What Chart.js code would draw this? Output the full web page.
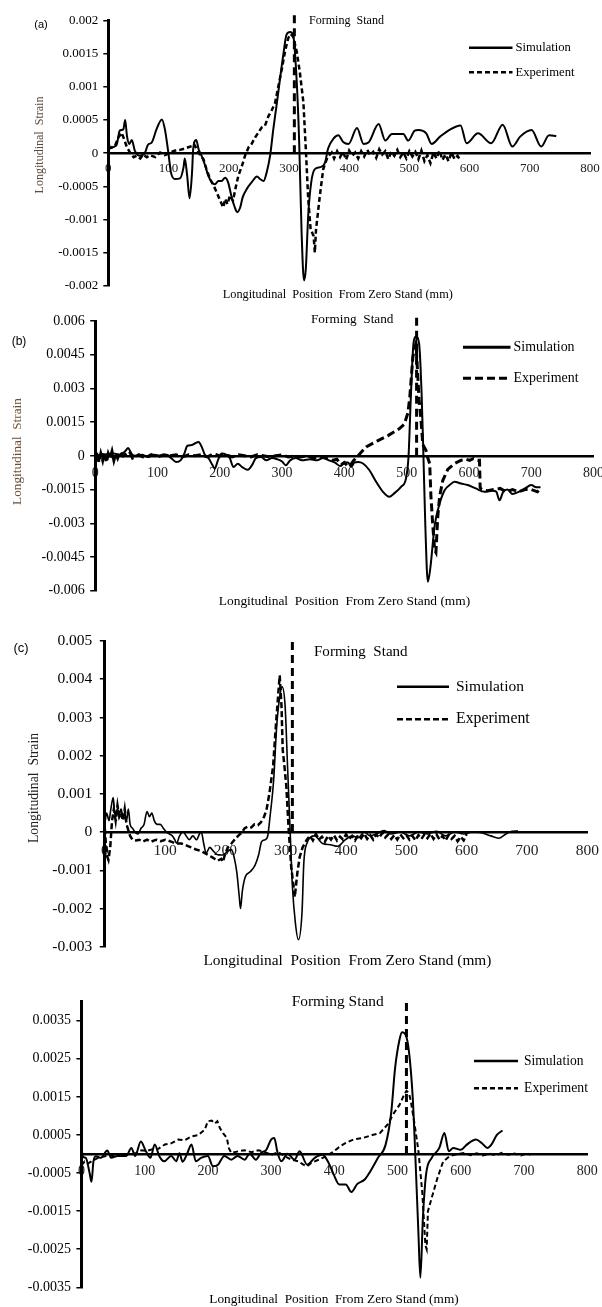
<!DOCTYPE html>
<html lang="en">
<head>
<meta charset="UTF-8">
<title>Longitudinal Strain - Simulation vs Experiment</title>
<script src="https://cdn.jsdelivr.net/npm/chart.js"></script>
<style>
  body { margin: 0; background: #fff; }
  .panel { position: absolute; left: 0; width: 602px; }
  canvas { display: block; }
</style>
</head>
<body>

<div class="panel" style="top:0px"><canvas id="chartA" width="602" height="305"></canvas></div>
<div class="panel" style="top:305px"><canvas id="chartB" width="602" height="320"></canvas></div>
<div class="panel" style="top:625px"><canvas id="chartC" width="602" height="350"></canvas></div>
<div class="panel" style="top:975px"><canvas id="chartD" width="602" height="332"></canvas></div>

<script>
  // ---- shared labels ----
  const seriesNames = ['Simulation', 'Experiment'];
  const xTitleText = 'Longitudinal  Position  From Zero Stand (mm)';
  const yTitleText = 'Longitudinal  Strain';
  const xTicks = [0, 100, 200, 300, 400, 500, 600, 700, 800];

  // ---- panel (a) ----
  const aYTicks = [-0.002, -0.0015, -0.001, -0.0005, 0, 0.0005, 0.001, 0.0015, 0.002];
  const aStandX = 309;
  const aSimX = [0, 2, 5, 10, 14, 19, 25, 28, 31, 35, 39, 44, 53, 61, 66, 72, 80, 89, 94, 100, 104, 111, 119, 125, 127, 131, 135, 139, 141, 146, 150, 155, 161, 166, 172, 177, 183, 188, 194, 199, 205, 211, 214, 219, 223, 230, 238, 247, 252, 258, 263, 269, 274, 280, 285, 291, 296, 302, 307, 313, 317, 321, 325, 328, 332, 337, 343, 352, 360, 365, 374, 382, 390, 399, 413, 424, 432, 449, 460, 471, 490, 498, 509, 515, 528, 537, 551, 566, 585, 595, 614, 636, 655, 671, 684, 703, 719, 732, 744];
  const aSimY = [0.0003, 0.0001, 0.00008, 0.0001, 0.00013, 0.00034, 0.00036, 0.0005, 0.00026, 0.00014, 0.0002, 0.00004, -0.00004, 0.00001, 0.00013, 0.00016, 0.00036, 0.00051, 0.00036, -0.00001, -0.00029, -0.00039, -0.00038, -0.00021, -0.00008, -0.00034, -0.00068, -0.0003, 0.00006, 0.0002, 0.00006, -0.00004, -0.00019, -0.00034, -0.00044, -0.00047, -0.00042, -0.00042, -0.00037, -0.00044, -0.00067, -0.00084, -0.00089, -0.00082, -0.00067, -0.00054, -0.00044, -0.00035, -0.00039, -0.00042, -0.00029, -0.00002, 0.00036, 0.00076, 0.00111, 0.00151, 0.00179, 0.00183, 0.00178, 0.00107, 0.00017, -0.00119, -0.00192, -0.00175, -0.00094, -0.00044, -0.00024, -0.00021, -0.00014, 0.00007, 0.00022, 0.00027, 0.00017, 0.00014, 0.00038, 0.00014, 0.00016, 0.00044, 0.00019, 0.00029, 0.00029, 0.00019, 0.00034, 0.00035, 0.0003, 0.00014, 0.00025, 0.00035, 0.00042, 0.00015, 0.0003, 0.00015, 0.00043, 0.0001, 0.00025, 0.00035, 0.0001, 0.00027, 0.00026];
  const aExpX = [0, 6, 11, 17, 22, 25, 31, 36, 42, 47, 53, 58, 64, 69, 78, 86, 94, 103, 111, 119, 127, 133, 139, 142, 147, 152, 158, 163, 169, 175, 180, 186, 191, 194, 198, 202, 207, 211, 216, 222, 227, 233, 238, 244, 249, 255, 260, 266, 271, 277, 282, 288, 294, 299, 303, 307, 313, 318, 324, 328, 332, 336, 341, 343, 345, 352, 357, 364, 371, 375, 380, 385, 390, 395, 400, 405, 410, 415, 420, 425, 430, 435, 440, 445, 450, 455, 460, 465, 470, 475, 480, 485, 490, 495, 500, 505, 510, 515, 520, 525, 530, 535, 540, 545, 550, 555, 560, 565, 570, 575, 580, 585];
  const aExpY = [0.00006, 0.00009, 0.00011, 0.00024, 0.00031, 0.00024, 0.00009, 0.00001, -0.00006, -0.00004, -0.00008, -0.00002, -0.00006, -0.00003, -0.00006, 0.00001, -0.00003, 0.00001, 0.00004, 0.00005, 0.00007, 0.00009, 0.00011, 0.00014, 0.00006, -0.00002, -0.00009, -0.00024, -0.00039, -0.00049, -0.00059, -0.00072, -0.00082, -0.00069, -0.00077, -0.00064, -0.00072, -0.00054, -0.00034, -0.00019, -0.00004, 0.00009, 0.00014, 0.00024, 0.00031, 0.00039, 0.00041, 0.00056, 0.00064, 0.00076, 0.00099, 0.00126, 0.00156, 0.00174, 0.0018, 0.00176, 0.00153, 0.00123, 0.00077, 0.00007, -0.00069, -0.00115, -0.00125, -0.0015, -0.00115, -0.00059, -0.00024, -0.00006, 0.00001, -0.00008, 0.00003, -0.00006, 0.00002, -0.0001, 0.00004, -0.00004, 0.00001, -0.00008, 0.00003, -0.00005, 0.00005, -0.00003, 0.00002, -0.00007, 0.00006, -0.00002, 0.00003, -0.00009, 0.00002, -0.00004, 0.00005, -0.00006, 0.00001, -0.00008, 0.00003, -0.00005, 0.00002, -0.00009, 0.00004, -0.00012, -0.00003, -0.00015, 0.00001, -0.00008, 0.00004, -0.0001, -0.00002, -0.00012, 0.00001, -0.00009, -0.00004, -0.00011];

  // ---- panel (b) ----
  const bYTicks = [-0.006, -0.0045, -0.003, -0.0015, 0, 0.0015, 0.003, 0.0045, 0.006];
  const bStandX = 516;
  const bSimX = [0, 5, 10, 15, 20, 25, 30, 40, 48, 53, 58, 65, 75, 85, 95, 105, 115, 122, 130, 137, 143, 148, 155, 160, 166, 171, 176, 182, 188, 192, 197, 203, 210, 216, 222, 229, 236, 245, 252, 258, 266, 275, 284, 292, 300, 306, 313, 322, 332, 345, 356, 366, 375, 385, 393, 400, 406, 411, 416, 422, 430, 440, 451, 462, 472, 480, 491, 499, 503, 507, 511, 515, 520, 524, 527, 530, 534, 538, 545, 553, 561, 569, 577, 587, 598, 611, 625, 638, 644, 649, 655, 662, 670, 680, 690, 700, 708, 715];
  const bSimY = [0.0001, -0.0001, 0.0001, -0.0001, 0.0001, 0, 0.0001, 0.00005, 0.0002, 0.00035, 0.0001, 0, 0.00005, -0.00005, 0.00005, 0, 0.00005, -0.0001, -0.00027, -0.0002, 0.0001, 0.00045, 0.00048, 0.00055, 0.00062, 0.0004, 0.00005, -0.0001, -0.0004, -0.00056, -0.0002, 0.0001, 0.00005, -0.0001, -0.0005, -0.00035, -0.0005, -0.00062, -0.0004, -0.0001, -0.00005, -0.0002, -0.0001, -0.00015, -0.00025, -0.00042, -0.0002, -0.0001, -0.0002, -0.00015, -0.0002, -0.0001, -0.0002, -0.0003, -0.00045, -0.0003, -0.0003, -0.00049, -0.0003, -0.00027, -0.00034, -0.00063, -0.00115, -0.0016, -0.00182, -0.00167, -0.00138, -0.001, -0.00004, 0.0028, 0.005, 0.0053, 0.005, 0.0028, -0.00004, -0.0031, -0.0056, -0.005, -0.0031, -0.00212, -0.00153, -0.0013, -0.00115, -0.00123, -0.0013, -0.00145, -0.0016, -0.00155, -0.0016, -0.00198, -0.0016, -0.0015, -0.0017, -0.0016, -0.00145, -0.0013, -0.0014, -0.0014];
  const bExpX = [0, 3, 6, 9, 12, 15, 18, 21, 24, 27, 30, 33, 36, 40, 45, 50, 55, 60, 70, 80, 90, 100, 110, 120, 130, 140, 150, 160, 170, 180, 190, 200, 210, 220, 230, 240, 250, 260, 270, 280, 290, 300, 310, 320, 330, 340, 350, 360, 370, 380, 388, 395, 400, 405, 410, 415, 422, 435, 454, 470, 488, 496, 502, 505, 510, 513, 515, 518, 520, 523, 526, 531, 534, 537, 539, 542, 545, 547, 550, 553, 558, 566, 577, 587, 595, 601, 607, 614, 617, 618, 620, 630, 640, 650, 660, 670, 680, 690, 700, 710, 715];
  const bExpY = [-0.0002, 0.0002, -0.0003, 0.0001, -0.0002, 0.0002, -0.0003, 0.0001, -0.0001, 0.0002, -0.0002, 0.0001, -0.0001, 0.0002, 0, 0.0001, 0.0002, -0.0001, 0.00005, -0.0001, 0.00005, -0.00005, 0.00005, 0, 0.00005, -0.00005, 0.00005, 0, 0.00005, -0.00005, 0.0001, 0, 0.00005, -0.00005, 0.00005, 0, -0.00005, 0.00005, 0, -0.00005, 0, 0.00005, -0.00005, 0, -0.00005, 0, -0.0001, -0.00005, -0.0001, -0.0002, -0.00015, -0.0004, -0.0003, -0.00045, -0.0004, -0.0002, 0, 0.0004, 0.00068, 0.0009, 0.0012, 0.0014, 0.0019, 0.0026, 0.0044, 0.0048, 0.005, 0.0035, 0.0025, 0.0016, 0.0005, 0.00025, -0.0001, -0.00034, -0.0018, -0.0031, -0.0042, -0.0043, -0.0027, -0.0018, -0.0011, -0.0006, -0.00034, -0.0002, -0.00015, -0.0002, -0.00012, -0.0002, -0.0002, -0.0014, -0.0015, -0.00155, -0.0015, -0.00145, -0.0016, -0.0015, -0.0016, -0.0015, -0.0015, -0.0016, -0.00145];

  // ---- panel (c) ----
  const cYTicks = [-0.003, -0.002, -0.001, 0, 0.001, 0.002, 0.003, 0.004, 0.005];
  const cStandX = 311;
  const cSimX = [0, 3, 7, 10, 14, 17, 21, 24, 27, 30, 33, 36, 39, 42, 46, 50, 55, 60, 65, 70, 74, 78, 82, 87, 92, 97, 102, 107, 112, 116, 119, 124, 130, 135, 140, 146, 152, 157, 160, 164, 168, 174, 180, 188, 196, 204, 210, 215, 219, 223, 225, 228, 233, 241, 249, 255, 260, 266, 270, 274, 280, 285, 291, 294, 299, 303, 307, 311, 316, 321, 327, 330, 335, 348, 361, 374, 386, 399, 410, 420, 430, 440, 450, 463, 475, 490, 505, 520, 535, 550, 565, 580, 595, 610, 625, 640, 653, 665, 675, 685];
  const cSimY = [0.0002, 0.0005, 0.0003, 0.0006, 0.0009, 0.0004, 0.0006, 0.0005, 0.0006, 0.0004, 0.0005, 0.0003, 0.0006, 0.0002, 0.0001, 0, -0.00005, 0.0001, 0.0002, 0.00054, 0.0004, 0.0005, 0.0003, 0.0002, 0.0002, 0.0001, 0, -0.00005, -0.0001, -0.0002, -0.00029, -0.0001, 0, -0.0001, -0.0002, -0.0001, -0.0002, -0.00005, 0, -0.0003, -0.00055, -0.0004, -0.0005, -0.0006, -0.0006, -0.0005, -0.00046, -0.0007, -0.00107, -0.0017, -0.002, -0.00155, -0.00117, -0.00104, -0.00087, -0.0006, -0.00025, -0.0002, -0.00011, 0.00041, 0.00137, 0.00277, 0.00364, 0.0038, 0.00329, 0.00172, 0.00015, -0.0014, -0.00238, -0.00282, -0.0021, -0.0008, -0.0003, -0.0001, -0.0003, -0.00033, -0.00037, -0.0002, -0.0001, -0.00015, 0, -0.0001, -0.00005, 0.00004, -0.00005, 0, -0.0001, 0, -0.00005, 0.00002, -0.0001, 0, -0.00005, 0, -0.00002, -0.0001, -0.00016, -0.00005, 0.00002, 0.00003];
  const cExpX = [0, 3, 6, 9, 12, 15, 18, 21, 24, 27, 30, 33, 36, 38, 42, 46, 52, 57, 63, 70, 77, 85, 93, 100, 110, 118, 127, 135, 143, 150, 160, 166, 171, 177, 182, 187, 193, 196, 199, 204, 210, 215, 221, 226, 232, 237, 243, 248, 254, 259, 264, 268, 273, 279, 284, 288, 290, 293, 295, 298, 301, 305, 309, 315, 319, 323, 328, 335, 340, 345, 350, 355, 360, 365, 370, 375, 380, 385, 390, 395, 400, 405, 410, 415, 420, 425, 430, 435, 440, 445, 450, 455, 460, 465, 470, 475, 480, 485, 490, 495, 500, 505, 510, 515, 520, 525, 530, 535, 540, 545, 550, 555, 560, 565, 570, 575, 580, 585, 590, 595, 600];
  const cExpY = [0.0001, -0.0006, -0.00073, -0.0004, 0.0003, 0.0006, 0.0003, 0.0007, 0.0004, 0.0005, 0.0003, 0.0006, 0.0002, 0.0001, -0.0001, -0.0002, -0.00022, -0.0002, -0.00025, -0.0002, -0.00025, -0.0002, -0.00024, -0.0002, -0.00025, -0.0003, -0.0003, -0.00035, -0.0004, -0.00045, -0.0005, -0.00055, -0.0006, -0.00065, -0.0007, -0.00075, -0.0007, -0.00078, -0.0006, -0.0004, -0.0003, -0.0002, -0.0001, -0.00003, 0.0001, 0.00014, 0.00012, 0.0002, 0.00018, 0.00026, 0.0004, 0.00057, 0.00102, 0.00172, 0.00286, 0.0037, 0.0041, 0.00329, 0.00215, 0.0017, 0.00119, 0.00003, -0.0009, -0.0017, -0.0011, -0.00066, -0.0004, -0.0002, -0.0001, -0.00022, -0.00005, -0.0002, -0.00012, -0.00025, -0.0001, -0.0002, -0.00008, -0.00022, -0.00012, -0.0002, -0.00006, -0.00018, -0.0001, -0.00022, -0.00008, -0.00016, -0.00004, -0.00018, -0.00008, -0.0002, -0.00006, -0.00015, -0.00002, -0.00014, -0.00006, -0.00018, -0.00008, -0.0002, -0.00006, -0.00016, -0.00008, -0.0002, -0.0001, -0.00022, -0.00008, -0.00018, -0.00006, -0.00016, -0.00004, -0.00018, -0.00006, -0.0002, -0.0001, -0.00022, -0.00008, -0.00018, -0.0001, -0.00024, -0.00012, -0.00022, -0.00005];

  // ---- panel (d) ----
  const dYTicks = [-0.0035, -0.0025, -0.0015, -0.0005, 0.0005, 0.0015, 0.0025, 0.0035];
  const dStandX = 514;
  const dSimX = [0, 2, 7, 13, 16, 19, 23, 31, 41, 47, 57, 71, 79, 85, 94, 102, 109, 116, 123, 131, 142, 150, 155, 160, 167, 174, 181, 189, 200, 208, 216, 226, 237, 247, 258, 266, 276, 284, 292, 300, 305, 310, 316, 326, 337, 345, 357, 369, 381, 390, 399, 408, 418, 427, 436, 448, 457, 469, 481, 490, 496, 503, 507, 513, 518, 524, 528, 533, 536, 540, 545, 554, 566, 574, 581, 588, 600, 609, 624, 633, 642, 648, 657, 666];
  const dSimY = [0.00025, -0.00006, -0.0001, -0.0005, -0.00073, -0.0002, -0.00006, -0.0001, 0.00009, -0.0001, -0.00005, -0.00005, 0.00016, -0.00005, 0.00033, 0.00007, -0.0001, 0.00025, -0.00005, -0.00019, -0.00005, -0.00019, 0.00002, -0.0002, 0, 0.00025, -0.00019, -0.0001, -0.00005, -0.00032, -0.00028, -0.00005, -0.00015, -0.00005, -0.00015, 0.00001, -0.00015, 0.00003, 0.0001, 0.00038, 0.00042, 0.00005, -0.00019, 0.00001, -0.00015, 0.00007, -0.00028, -0.0001, -0.00002, -0.0002, -0.00054, -0.0008, -0.0008, -0.001, -0.00079, -0.00067, -0.00045, -0.0001, 0.00024, 0.0011, 0.00225, 0.003, 0.0032, 0.00312, 0.00269, 0.00147, -0.00002, -0.0021, -0.00325, -0.00168, -0.00054, -0.0001, 0.00016, 0.00055, 0.00007, 0.00016, 0.00011, 0.00024, 0.00038, 0.00029, 0.00016, 0.00024, 0.0005, 0.00062];
  const dExpX = [0, 5, 10, 16, 21, 26, 32, 37, 45, 53, 61, 69, 79, 87, 95, 103, 111, 121, 132, 142, 153, 163, 174, 185, 195, 200, 206, 211, 215, 219, 224, 230, 233, 237, 248, 258, 269, 280, 290, 301, 311, 322, 332, 343, 351, 357, 363, 375, 387, 399, 409, 418, 430, 445, 460, 472, 484, 494, 503, 509, 514, 518, 521, 527, 533, 539, 544, 546, 548, 554, 563, 572, 582, 594, 606, 615, 625, 635, 645, 655, 665, 675, 685, 695, 705, 710];
  const dExpY = [-0.0003, -0.0002, -0.00025, -0.00019, -0.00015, -0.0001, -0.00008, -0.00006, -0.00004, -0.00006, -0.00002, -0.00002, 0.00001, 0.00003, 0.0001, 0.00008, 0.00012, 0.00013, 0.00025, 0.00028, 0.00038, 0.00036, 0.00046, 0.0005, 0.00064, 0.00086, 0.00088, 0.0008, 0.00086, 0.00068, 0.00055, 0.00042, 0.00016, 0.00003, 0.00007, 0.0001, 0.00005, 0.0001, 0.00005, -0.00002, 0.00005, -0.00006, -0.00015, -0.00019, -0.00028, -0.00032, -0.00024, -0.00015, -0.00006, 0.00007, 0.0002, 0.00029, 0.00038, 0.00042, 0.0005, 0.00055, 0.00077, 0.00107, 0.00129, 0.00151, 0.00166, 0.0016, 0.00138, 0.00077, 0.00007, -0.001, -0.0024, -0.0025, -0.0015, -0.00115, -0.00063, -0.0002, -0.00006, 0, 0.00003, -0.00003, 0.00002, -0.00004, 0.00001, -0.00003, 0.00003, -0.00002, 0.00001, -0.00004, 0.00002, -0.00002];

  const serif = '"Liberation Serif", "Times New Roman", serif';

  function pts(xs, ys) {
    return xs.map((x, i) => ({ x: x, y: ys[i] }));
  }

  // draw text squeezed/stretched to the width it has in the figure
  function fitText(ctx, text, x, y, w, align, color) {
    ctx.font = '20px ' + serif;
    const size = 20 * w / ctx.measureText(text).width;
    ctx.font = size.toFixed(2) + 'px ' + serif;
    ctx.textAlign = align;
    ctx.textBaseline = 'middle';
    ctx.fillStyle = color || '#000';
    ctx.fillText(text, x, y);
  }

  const overlay = {
    id: 'overlay',
    afterDraw(chart, args, o) {
      const ctx = chart.ctx;
      ctx.save();
      if (o.label) {
        ctx.font = o.label.size + 'px "Liberation Sans", Arial, sans-serif';
        ctx.fillStyle = '#000';
        ctx.textAlign = 'center';
        ctx.textBaseline = 'middle';
        ctx.fillText(o.label.text, o.label.x, o.label.y);
      }
      if (o.yTitle) {
        ctx.save();
        ctx.translate(o.yTitle.x, o.yTitle.y);
        ctx.rotate(-Math.PI / 2);
        fitText(ctx, yTitleText, 0, 0, o.yTitle.w, 'center', o.yTitle.color);
        ctx.restore();
      }
      fitText(ctx, xTitleText, o.xTitle.x, o.xTitle.y, o.xTitle.w, 'center');
      fitText(ctx, o.stand.text, o.stand.x, o.stand.y, o.stand.w, 'left');

      // legend
      const lg = o.legend;
      ctx.strokeStyle = '#000';
      ctx.lineWidth = lg.width;
      [lg.y1, lg.y2].forEach((ly, i) => {
        ctx.beginPath();
        ctx.setLineDash(i === 0 ? [] : lg.dash);
        ctx.moveTo(lg.x1, ly);
        ctx.lineTo(lg.x2, ly);
        ctx.stroke();
        fitText(ctx, seriesNames[i], lg.tx, ly, lg.tw[i], 'left');
      });
      ctx.restore();
    }
  };

  function makePanel(id, p) {
    const canvas = document.getElementById(id);
    const H = canvas.height;
    return new Chart(canvas, {
      type: 'line',
      data: {
        datasets: [
          {
            label: seriesNames[0],
            data: pts(p.simX, p.simY),
            borderColor: '#000',
            borderWidth: p.simWidth,
            pointRadius: 0,
            cubicInterpolationMode: 'monotone',
            order: 2
          },
          {
            label: seriesNames[1],
            data: pts(p.expX, p.expY),
            borderColor: '#000',
            borderWidth: p.expWidth,
            borderDash: p.expDash,
            pointRadius: 0,
            tension: 0,
            order: 1
          },
          {
            label: 'Forming Stand',
            data: [{ x: p.standX, y: 0 }, { x: p.standX, y: p.standTop }],
            borderColor: '#000',
            borderWidth: 3,
            borderDash: [8, 5],
            pointRadius: 0,
            clip: false,
            order: 0
          }
        ]
      },
      options: {
        responsive: false,
        animation: false,
        layout: {
          padding: { left: 0, top: p.area.top, right: 602 - p.area.right, bottom: H - p.area.bottom }
        },
        scales: {
          x: {
            type: 'linear',
            position: { y: 0 },
            min: 0,
            max: 800,
            afterBuildTicks: s => { s.ticks = xTicks.map(v => ({ value: v })); },
            afterFit: s => { s.paddingLeft = 0; s.paddingRight = 0; },
            grid: { display: false, drawTicks: false },
            border: { display: true, color: '#000', width: 2.5 },
            ticks: {
              padding: p.xPad,
              maxRotation: 0,
              autoSkip: false,
              color: '#222',
              font: { family: serif, size: p.font },
              callback: v => String(v)
            }
          },
          y: {
            type: 'linear',
            position: 'left',
            min: p.yMin,
            max: p.yMax,
            afterBuildTicks: s => { s.ticks = p.yTicks.map(v => ({ value: v })); },
            afterFit: s => { s.width = p.area.left; s.paddingTop = 0; s.paddingBottom = 0; },
            grid: { display: true, drawOnChartArea: false, drawTicks: true, tickLength: 5, color: '#000', lineWidth: 1.5 },
            border: { display: true, color: '#000', width: 3 },
            ticks: {
              padding: p.yPad,
              autoSkip: false,
              color: '#000',
              font: { family: serif, size: p.font },
              callback: v => String(v)
            }
          }
        },
        plugins: {
          legend: { display: false },
          tooltip: { enabled: false },
          overlay: p.overlay
        }
      },
      plugins: [overlay]
    });
  }

  makePanel('chartA', {
    simX: aSimX, simY: aSimY, expX: aExpX, expY: aExpY,
    standX: aStandX, standTop: 0.0021,
    yMin: -0.002, yMax: 0.002, yTicks: aYTicks,
    area: { left: 108.3, right: 590, top: 20.7, bottom: 285.7 },
    font: 13, xPad: 8, yPad: 5, simWidth: 2, expWidth: 2.5, expDash: [5, 3],
    overlay: {
      label: { text: '(a)', x: 41, y: 25, size: 11 },
      yTitle: { x: 39.5, y: 145, w: 97, color: '#5c4a3d' },
      xTitle: { x: 337.8, y: 295, w: 230 },
      stand: { text: 'Forming  Stand', x: 309, y: 20.7, w: 75 },
      legend: { x1: 469, x2: 512.5, y1: 47.7, y2: 72.3, width: 2.5, dash: [5, 3], tx: 515.5, tw: [55.5, 59] }
    }
  });

  makePanel('chartB', {
    simX: bSimX, simY: bSimY, expX: bExpX, expY: bExpY,
    standX: bStandX, standTop: 0.0062,
    yMin: -0.006, yMax: 0.006, yTicks: bYTicks,
    area: { left: 95.2, right: 593.5, top: 16, bottom: 285.7 },
    font: 14, xPad: 9, yPad: 5.5, simWidth: 2, expWidth: 3, expDash: [8, 4],
    overlay: {
      label: { text: '(b)', x: 19, y: 36.7, size: 12 },
      yTitle: { x: 17.3, y: 146.5, w: 107, color: '#6b4f36' },
      xTitle: { x: 344.5, y: 296.7, w: 251.5 },
      stand: { text: 'Forming  Stand', x: 311, y: 15, w: 82.5 },
      legend: { x1: 463, x2: 510.5, y1: 42.3, y2: 73.3, width: 3, dash: [8, 4], tx: 513.6, tw: [61, 65] }
    }
  });

  makePanel('chartC', {
    simX: cSimX, simY: cSimY, expX: cExpX, expY: cExpY,
    standX: cStandX, standTop: 0.005,
    yMin: -0.003, yMax: 0.005, yTicks: cYTicks,
    area: { left: 104.8, right: 587.3, top: 16, bottom: 321.7 },
    font: 15.5, xPad: 10, yPad: 7.5, simWidth: 1.6, expWidth: 2.5, expDash: [6, 3],
    overlay: {
      label: { text: '(c)', x: 21, y: 23.3, size: 13 },
      yTitle: { x: 34.5, y: 163, w: 110, color: '#222' },
      xTitle: { x: 347.4, y: 335.7, w: 288 },
      stand: { text: 'Forming  Stand', x: 314, y: 26.7, w: 93.7 },
      legend: { x1: 397, x2: 449, y1: 61.7, y2: 94.3, width: 2.5, dash: [6, 3], tx: 456, tw: [68, 73.7] }
    }
  });

  makePanel('chartD', {
    simX: dSimX, simY: dSimY, expX: dExpX, expY: dExpY,
    standX: dStandX, standTop: 0.0041,
    yMin: -0.0035, yMax: 0.004, yTicks: dYTicks,
    area: { left: 81.4, right: 587.3, top: 26.7, bottom: 312.3 },
    font: 14, xPad: 9, yPad: 5.5, simWidth: 2, expWidth: 2, expDash: [5, 3],
    overlay: {
      xTitle: { x: 334, y: 324.3, w: 249.5 },
      stand: { text: 'Forming Stand', x: 291.7, y: 27.3, w: 92 },
      legend: { x1: 474, x2: 518, y1: 86, y2: 113.3, width: 2.5, dash: [5, 3], tx: 524, tw: [59.5, 64] }
    }
  });
</script>

</body>
</html>
